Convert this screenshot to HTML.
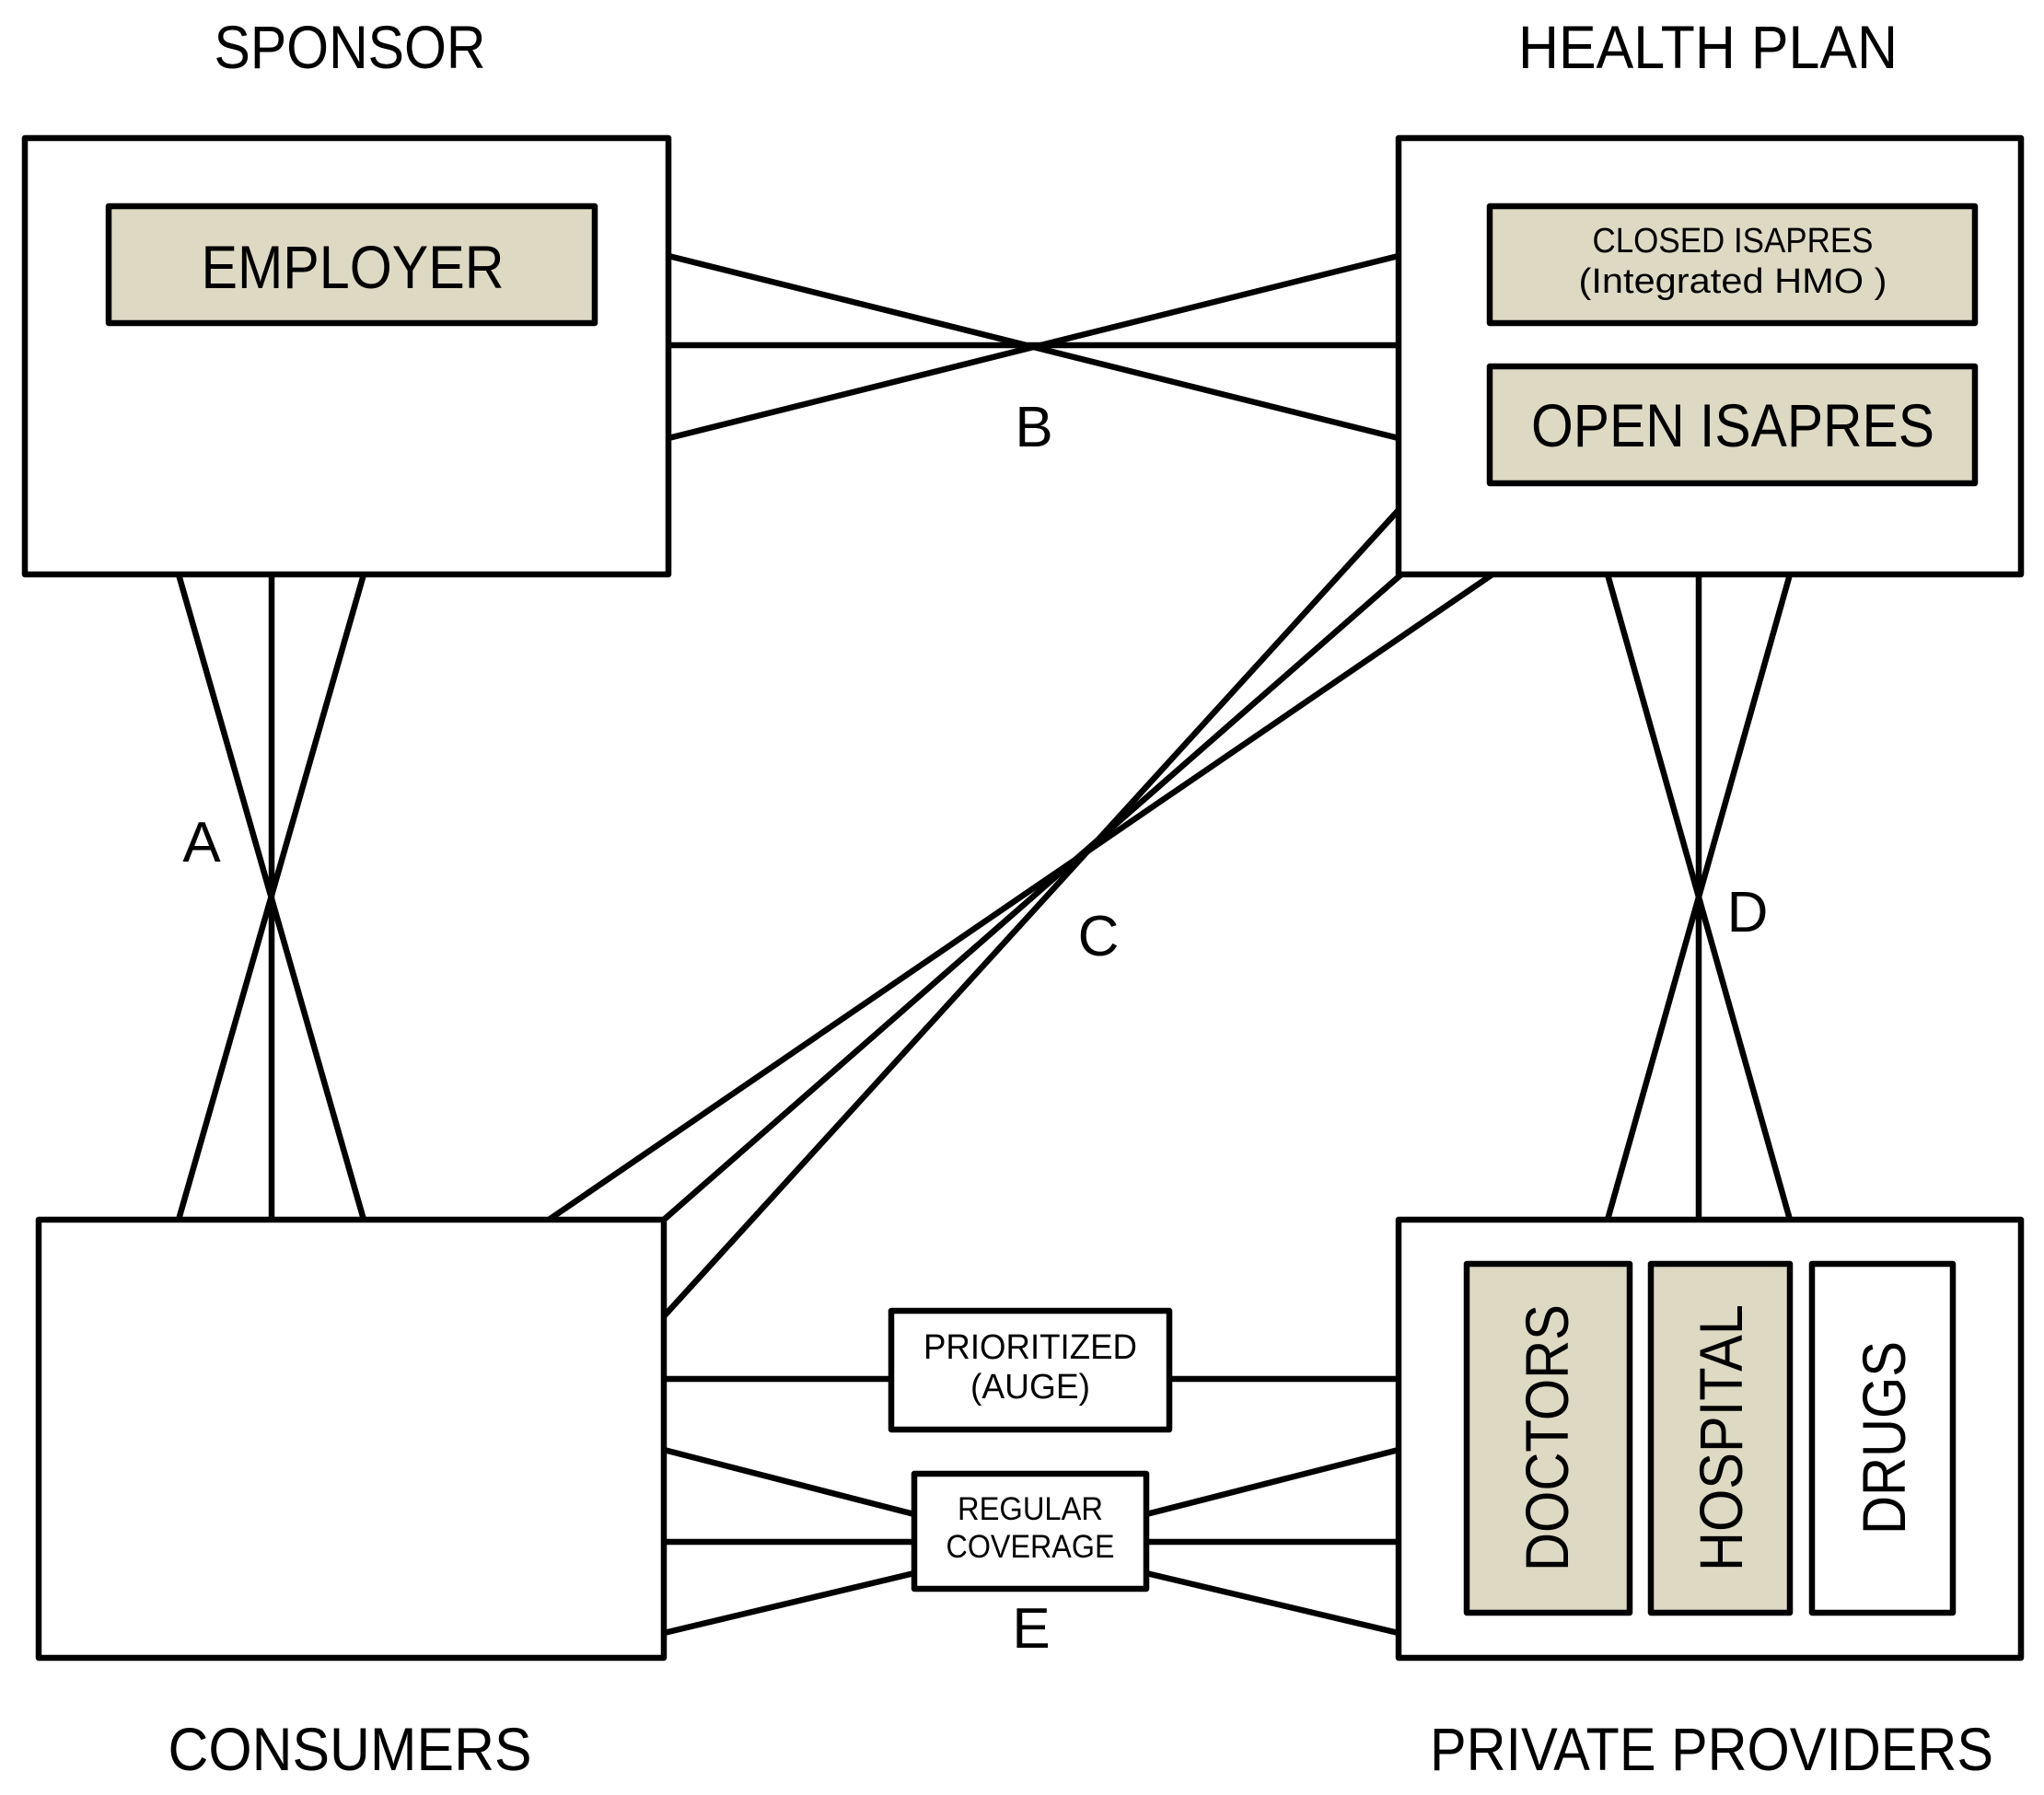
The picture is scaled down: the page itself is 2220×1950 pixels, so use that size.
<!DOCTYPE html>
<html><head><meta charset="utf-8"><style>html,body{margin:0;padding:0;background:#fff}svg{display:block}</style></head>
<body>
<svg width="2220" height="1950" viewBox="0 0 2220 1950" xmlns="http://www.w3.org/2000/svg" font-family="Liberation Sans, sans-serif" fill="#000">
<g stroke="#000" stroke-width="6.5" fill="none" stroke-linejoin="round">
<!-- B lines -->
<line x1="726" y1="278" x2="1519" y2="476"/>
<line x1="726" y1="375" x2="1519" y2="375"/>
<line x1="726" y1="476" x2="1519" y2="278"/>
<!-- A lines -->
<line x1="194" y1="624" x2="395" y2="1325"/>
<line x1="295" y1="624" x2="295" y2="1325"/>
<line x1="395" y1="624" x2="194" y2="1325"/>
<!-- C lines -->
<line x1="1519" y1="554" x2="721" y2="1430"/>
<line x1="1522" y1="624" x2="721" y2="1325"/>
<line x1="1621" y1="624" x2="596" y2="1325"/>
<!-- D lines -->
<line x1="1746" y1="624" x2="1944" y2="1325"/>
<line x1="1845" y1="624" x2="1845" y2="1325"/>
<line x1="1944" y1="624" x2="1746" y2="1325"/>
<!-- E lines -->
<line x1="721" y1="1498" x2="968" y2="1498"/>
<line x1="1270" y1="1498" x2="1519" y2="1498"/>
<line x1="721" y1="1575" x2="993" y2="1645"/>
<line x1="721" y1="1675" x2="993" y2="1675"/>
<line x1="721" y1="1774" x2="993" y2="1709"/>
<line x1="1245" y1="1645" x2="1519" y2="1575"/>
<line x1="1245" y1="1675" x2="1519" y2="1675"/>
<line x1="1245" y1="1709" x2="1519" y2="1774"/>
<!-- boxes -->
<rect x="27" y="150" width="699" height="474" fill="#fff"/>
<rect x="1519" y="150" width="676" height="474" fill="#fff"/>
<rect x="42" y="1325" width="679" height="476" fill="#fff"/>
<rect x="1519" y="1325" width="676" height="476" fill="#fff"/>
<rect x="118" y="224" width="528" height="127" fill="#ddd9c3"/>
<rect x="1618" y="224" width="527" height="127" fill="#ddd9c3"/>
<rect x="1618" y="398" width="527" height="127" fill="#ddd9c3"/>
<rect x="1593" y="1373" width="177" height="379" fill="#ddd9c3"/>
<rect x="1793" y="1373" width="151" height="379" fill="#ddd9c3"/>
<rect x="1968" y="1373" width="153" height="379" fill="#fff"/>
<rect x="968" y="1424" width="302" height="129" fill="#fff"/>
<rect x="993" y="1601" width="252" height="125" fill="#fff"/>
</g>
<g text-anchor="middle">
<text x="380" y="74" font-size="66" textLength="295" lengthAdjust="spacingAndGlyphs">SPONSOR</text>
<text x="1855" y="74" font-size="66" textLength="412" lengthAdjust="spacingAndGlyphs">HEALTH PLAN</text>
<text x="380" y="1923" font-size="66" textLength="395" lengthAdjust="spacingAndGlyphs">CONSUMERS</text>
<text x="1859" y="1923" font-size="66" textLength="612" lengthAdjust="spacingAndGlyphs">PRIVATE PROVIDERS</text>
<text x="383" y="313" font-size="66" textLength="329" lengthAdjust="spacingAndGlyphs">EMPLOYER</text>
<text x="1882" y="274" font-size="38" textLength="305" lengthAdjust="spacingAndGlyphs">CLOSED ISAPRES</text>
<text x="1882" y="318" font-size="38" textLength="335" lengthAdjust="spacingAndGlyphs">(Integrated HMO )</text>
<text x="1882" y="485" font-size="66" textLength="438" lengthAdjust="spacingAndGlyphs">OPEN ISAPRES</text>
<text x="1119" y="1476" font-size="38" textLength="232" lengthAdjust="spacingAndGlyphs">PRIORITIZED</text>
<text x="1119" y="1519" font-size="38" textLength="130" lengthAdjust="spacingAndGlyphs">(AUGE)</text>
<text x="1119" y="1651" font-size="35" textLength="158" lengthAdjust="spacingAndGlyphs">REGULAR</text>
<text x="1119" y="1692" font-size="35" textLength="183" lengthAdjust="spacingAndGlyphs">COVERAGE</text>
<text x="1123" y="485" font-size="62">B</text>
<text x="219" y="936" font-size="62">A</text>
<text x="1193" y="1038" font-size="62">C</text>
<text x="1898" y="1012" font-size="62">D</text>
<text x="1120" y="1790" font-size="62">E</text>
<text transform="translate(1703,1562) rotate(-90)" font-size="66" textLength="290" lengthAdjust="spacingAndGlyphs">DOCTORS</text>
<text transform="translate(1892,1562) rotate(-90)" font-size="66" textLength="290" lengthAdjust="spacingAndGlyphs">HOSPITAL</text>
<text transform="translate(2069,1562) rotate(-90)" font-size="66" textLength="210" lengthAdjust="spacingAndGlyphs">DRUGS</text>
</g>
</svg>
</body></html>
